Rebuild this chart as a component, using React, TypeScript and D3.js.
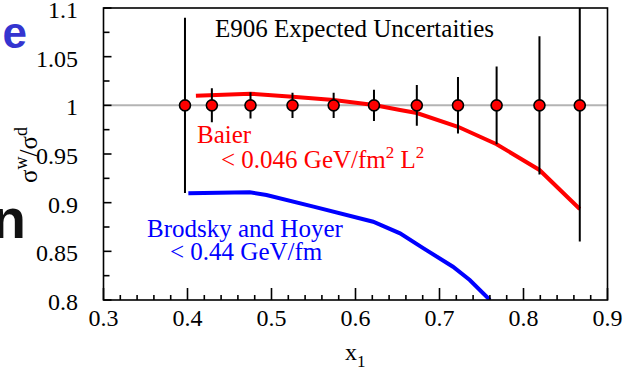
import React, { useEffect, useRef } from 'react';
import * as d3 from 'd3';

// measured points (x1) and their expected uncertainties
const pointX = [0.397, 0.429, 0.475, 0.525, 0.574, 0.622, 0.673, 0.722, 0.768, 0.819, 0.867];
const pointY = [1, 1, 1, 1, 1, 1, 1, 1, 1, 1, 1];
const pointErr = [0.09, 0.0175, 0.0135, 0.013, 0.013, 0.016, 0.021, 0.029, 0.04, 0.071, 0.14];

// Baier curve
const baierX = [0.41, 0.475, 0.525, 0.574, 0.622, 0.653, 0.673, 0.722, 0.768, 0.819, 0.867];
const baierY = [1.0099, 1.012, 1.0089, 1.0055, 1.0003, 0.9952, 0.9921, 0.978, 0.96, 0.9336, 0.8935];

// Brodsky and Hoyer curve
const bhX = [0.401, 0.474, 0.494, 0.55, 0.621, 0.653, 0.681, 0.716, 0.736, 0.76];
const bhY = [0.9096, 0.9107, 0.9079, 0.8959, 0.8804, 0.8685, 0.8531, 0.8342, 0.8205, 0.8];

const xTicks = [0.3, 0.4, 0.5, 0.6, 0.7, 0.8, 0.9];
const yTicks = [0.8, 0.85, 0.9, 0.95, 1, 1.05, 1.1];
const yTickLabels = ['0.8', '0.85', '0.9', '0.95', '1', '1.05', '1.1'];

const W = 626;
const H = 375;
const serif = '"Liberation Serif", "Times New Roman", serif';
const sans = '"Liberation Sans", Arial, sans-serif';

const App = () => {
  const svgRef = useRef<SVGSVGElement | null>(null);

  useEffect(() => {
    const svg = d3.select(svgRef.current);
    svg.selectAll('*').remove();

    const left = 103.5, right = 607.5, top = 8, bottom = 300;
    const x = d3.scaleLinear().domain([0.3, 0.9]).range([left, right]);
    const y = d3.scaleLinear().domain([0.8, 1.1]).range([bottom, top]);

    svg.append('clipPath').attr('id', 'plot-clip')
      .append('rect')
      .attr('x', left).attr('y', top)
      .attr('width', right - left).attr('height', bottom - top);

    // reference line at 1
    svg.append('line')
      .attr('x1', left).attr('x2', right)
      .attr('y1', y(1)).attr('y2', y(1))
      .attr('stroke', '#b4b4b4').attr('stroke-width', 2);

    const plot = svg.append('g').attr('clip-path', 'url(#plot-clip)');

    const line = d3.line<[number, number]>().x(d => x(d[0])).y(d => y(d[1]));

    plot.append('path')
      .datum(baierX.map((v, i) => [v, baierY[i]] as [number, number]))
      .attr('d', line)
      .attr('fill', 'none').attr('stroke', '#ff0000').attr('stroke-width', 4);

    plot.append('path')
      .datum(bhX.map((v, i) => [v, bhY[i]] as [number, number]))
      .attr('d', line)
      .attr('fill', 'none').attr('stroke', '#0000ff').attr('stroke-width', 4);

    // error bars
    plot.selectAll('.err')
      .data(pointX)
      .enter()
      .append('line')
      .attr('x1', d => x(d)).attr('x2', d => x(d))
      .attr('y1', (d, i) => y(pointY[i] + pointErr[i]))
      .attr('y2', (d, i) => y(pointY[i] - pointErr[i]))
      .attr('stroke', '#000').attr('stroke-width', 2);

    plot.selectAll('.pt')
      .data(pointX)
      .enter()
      .append('circle')
      .attr('cx', d => x(d))
      .attr('cy', (d, i) => y(pointY[i]))
      .attr('r', 5.5)
      .attr('fill', '#ff0000')
      .attr('stroke', '#000').attr('stroke-width', 1.6);

    // frame
    svg.append('rect')
      .attr('x', left).attr('y', top)
      .attr('width', right - left).attr('height', bottom - top)
      .attr('fill', 'none').attr('stroke', '#000').attr('stroke-width', 1.6);

    // x ticks (inward)
    const xMinor = d3.range(0.3, 0.9001, 0.02);
    svg.append('g').selectAll('line')
      .data(xMinor)
      .enter()
      .append('line')
      .attr('x1', d => x(d)).attr('x2', d => x(d))
      .attr('y1', bottom)
      .attr('y2', d => bottom - (Math.abs(d * 10 - Math.round(d * 10)) < 1e-6 ? 12 : 5))
      .attr('stroke', '#000').attr('stroke-width', 1.6);

    svg.append('g').selectAll('text')
      .data(xTicks)
      .enter()
      .append('text')
      .attr('x', d => x(d))
      .attr('y', 326)
      .attr('text-anchor', 'middle')
      .style('font-family', serif).style('font-size', '24px')
      .text(d => String(d));

    // y ticks (inward)
    const yMinor = d3.range(0.8, 1.1001, 0.025);
    svg.append('g').selectAll('line')
      .data(yMinor)
      .enter()
      .append('line')
      .attr('x1', left)
      .attr('x2', d => left + (Math.abs(d * 20 - Math.round(d * 20)) < 1e-6 ? 8 : 6))
      .attr('y1', d => y(d)).attr('y2', d => y(d))
      .attr('stroke', '#000').attr('stroke-width', 1.6);

    svg.append('g').selectAll('text')
      .data(yTicks)
      .enter()
      .append('text')
      .attr('x', 78)
      .attr('y', d => y(d) + 10)
      .attr('text-anchor', 'end')
      .style('font-family', serif).style('font-size', '24px')
      .text((d, i) => yTickLabels[i]);

    // title
    svg.append('text')
      .attr('x', 215).attr('y', 37)
      .style('font-family', serif).style('font-size', '25px')
      .text('E906 Expected Uncertaities');

    // Baier label
    svg.append('text')
      .attr('x', 197).attr('y', 143)
      .attr('fill', '#ff0000')
      .style('font-family', serif).style('font-size', '25px')
      .text('Baier');
    const b2 = svg.append('text')
      .attr('x', 221).attr('y', 168)
      .attr('fill', '#ff0000')
      .style('font-family', serif).style('font-size', '25px');
    b2.append('tspan').text('< 0.046 GeV/fm');
    b2.append('tspan').attr('dy', -10).style('font-size', '17px').text('2');
    b2.append('tspan').attr('dy', 10).text(' L');
    b2.append('tspan').attr('dy', -10).style('font-size', '17px').text('2');

    // Brodsky and Hoyer label
    svg.append('text')
      .attr('x', 147).attr('y', 237)
      .attr('fill', '#0000ff')
      .style('font-family', serif).style('font-size', '25px')
      .text('Brodsky and Hoyer');
    svg.append('text')
      .attr('x', 170).attr('y', 260)
      .attr('fill', '#0000ff')
      .style('font-family', serif).style('font-size', '25px')
      .text('< 0.44 GeV/fm');

    // axis titles
    const xl = svg.append('text')
      .attr('x', 345).attr('y', 360)
      .style('font-family', serif).style('font-size', '24px');
    xl.append('tspan').text('x');
    xl.append('tspan').attr('dy', 7).style('font-size', '17px').text('1');

    const yl = svg.append('text')
      .attr('transform', 'translate(37,155) rotate(-90)')
      .attr('text-anchor', 'middle')
      .style('font-family', serif).style('font-size', '25px');
    yl.append('tspan').text('σ');
    yl.append('tspan').attr('dy', -10).style('font-size', '18px').text('w');
    yl.append('tspan').attr('dy', 10).text('/σ');
    yl.append('tspan').attr('dy', -10).style('font-size', '18px').text('d');

    // slide text fragments at the left edge
    svg.append('text')
      .attr('x', 27).attr('y', 48)
      .attr('text-anchor', 'end')
      .attr('fill', '#3434d0')
      .style('font-family', sans).style('font-weight', 'bold').style('font-size', '44px')
      .text('e');
    svg.append('text')
      .attr('x', 26).attr('y', 238)
      .attr('text-anchor', 'end')
      .attr('fill', '#111')
      .style('font-family', sans).style('font-weight', 'bold').style('font-size', '56px')
      .text('n');
  }, []);

  return (
    <svg
      ref={svgRef}
      width={W}
      height={H}
      style={{ position: 'absolute', left: 0, top: 0, background: '#fff' }}
    />
  );
};

export default App;
